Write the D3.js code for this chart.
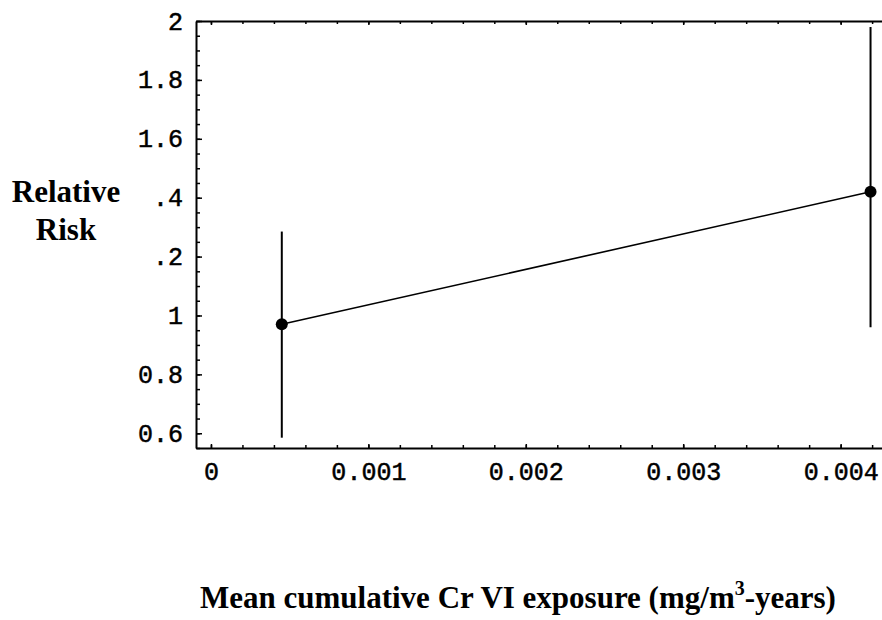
<!DOCTYPE html>
<html>
<head>
<meta charset="utf-8">
<script src="https://cdn.jsdelivr.net/npm/d3@7"></script>
<style>
  body { margin: 0; background: #fff; }
  .tick text { font-family: "Liberation Mono", monospace; font-size: 25px; fill: #000; stroke: #000; stroke-width: 0.5px; }
  .lbl { font-family: "Liberation Serif", "Times New Roman", serif; font-weight: bold; font-size: 31px; fill: #000; }
</style>
</head>
<body>
<div id="chart-area"></div>
<script>
// values
const exposure = [0.00045, 0.00419];
const relRisk = [0.97, 1.42];
const ciLow = [0.585, 0.96];
const ciHigh = [1.285, 1.98];

const xTicks = [0, 0.001, 0.002, 0.003, 0.004];
const xTickLabels = ['0', '0.001', '0.002', '0.003', '0.004'];
const xMinor = d3.range(0, 0.00421, 0.0002);
const yTicks = [0.6, 0.8, 1, 1.2, 1.4, 1.6, 1.8, 2];
// the leading "1" of 1.2 and 1.4 is hidden by the axis label in the original
const yTickLabels = ['0.6', '0.8', '1', '.2', '.4', '1.6', '1.8', '2'];
const yMinor = d3.range(0.55, 2.001, 0.05);

const W = 882, H = 620;
const LEFT = 196, RIGHT = 891, TOP = 21, BOTTOM = 448;

const svg = d3.select('#chart-area').append('svg')
    .attr('width', W)
    .attr('height', H)

const x = d3.scaleLinear()
    .domain([-0.000095, 0.00432])
    .range([LEFT, RIGHT])

const y = d3.scaleLinear()
    .domain([0.55, 2.0])
    .range([BOTTOM, TOP])

// minor ticks (inward)
svg.append('g')
    .attr('transform', `translate(0, ${BOTTOM})`)
    .call(d3.axisBottom(x).tickValues(xMinor).tickSize(-3).tickFormat(''))
    .call(g => g.select('.domain').remove())

svg.append('g')
    .attr('transform', `translate(0, ${TOP})`)
    .call(d3.axisTop(x).tickValues(xMinor).tickSize(-3).tickFormat(''))
    .call(g => g.select('.domain').remove())

svg.append('g')
    .attr('transform', `translate(${LEFT}, 0)`)
    .call(d3.axisLeft(y).tickValues(yMinor).tickSize(-4).tickFormat(''))
    .call(g => g.select('.domain').remove())

// major ticks + labels
svg.append('g')
    .attr('transform', `translate(0, ${BOTTOM})`)
    .call(d3.axisBottom(x).tickValues(xTicks).tickSizeInner(-4).tickSizeOuter(0)
        .tickPadding(14).tickFormat((d, i) => xTickLabels[i]))
    .call(g => g.select('.domain').attr('stroke-width', 2))

svg.append('g')
    .attr('transform', `translate(0, ${TOP})`)
    .call(d3.axisTop(x).tickValues(xTicks).tickSizeInner(-4).tickSizeOuter(0).tickFormat(''))
    .call(g => g.select('.domain').attr('stroke-width', 2))

svg.append('g')
    .attr('transform', `translate(${LEFT}, 0)`)
    .call(d3.axisLeft(y).tickValues(yTicks).tickSizeInner(-6).tickSizeOuter(0)
        .tickPadding(13).tickFormat((d, i) => yTickLabels[i]))
    .call(g => g.select('.domain').attr('stroke-width', 2))

svg.selectAll('.tick line').attr('stroke-width', 1.5)

// error bars
svg.append('g').selectAll('line')
    .data(exposure)
    .enter().append('line')
    .attr('x1', d => x(d))
    .attr('x2', d => x(d))
    .attr('y1', (d, i) => y(ciLow[i]))
    .attr('y2', (d, i) => y(ciHigh[i]))
    .attr('stroke', '#000')
    .attr('stroke-width', 2)

// connecting line
const pts = exposure.map((d, i) => [d, relRisk[i]])
svg.append('path')
    .datum(pts)
    .attr('d', d3.line().x(d => x(d[0])).y(d => y(d[1])))
    .attr('fill', 'none')
    .attr('stroke', '#000')
    .attr('stroke-width', 1.6)

svg.append('g').selectAll('circle')
    .data(pts)
    .enter().append('circle')
    .attr('cx', d => x(d[0]))
    .attr('cy', d => y(d[1]))
    .attr('r', 6)
    .attr('fill', '#000')

// axis titles
const yl = svg.append('text')
    .attr('class', 'lbl')
    .attr('text-anchor', 'middle')
yl.append('tspan').attr('x', 66).attr('y', 202).text('Relative')
yl.append('tspan').attr('x', 66).attr('y', 240).text('Risk')

const xl = svg.append('text')
    .attr('class', 'lbl')
    .attr('x', 200)
    .attr('y', 608)
xl.append('tspan').text('Mean cumulative Cr VI exposure (mg/m')
xl.append('tspan').attr('dy', -13).attr('font-size', 20).text('3')
xl.append('tspan').attr('dy', 13).text('-years)')
</script>
</body>
</html>
